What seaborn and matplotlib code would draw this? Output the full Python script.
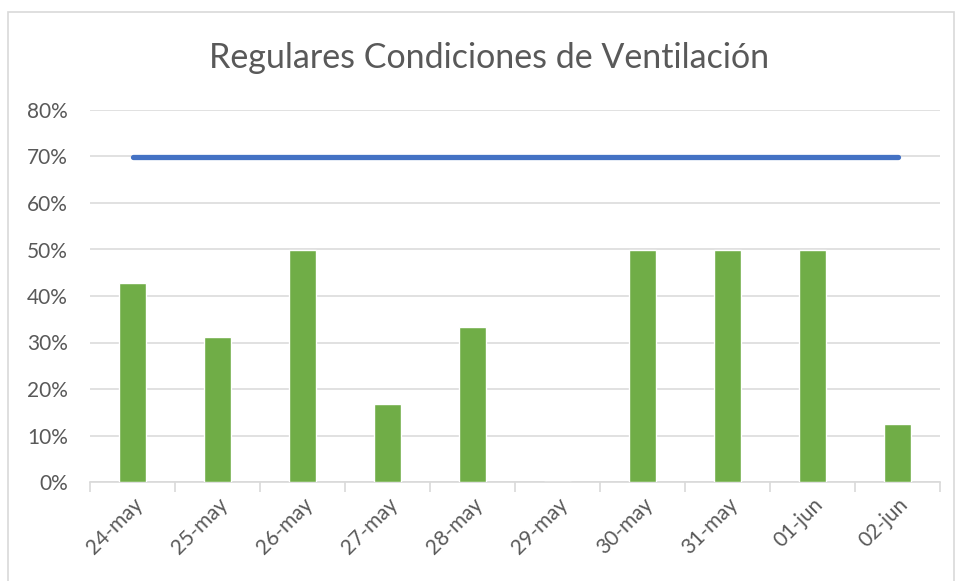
import numpy as np
import pandas as pd
import seaborn as sns
import matplotlib.pyplot as plt
from matplotlib.patches import Rectangle
from matplotlib.ticker import PercentFormatter, MultipleLocator, FixedLocator

fechas = ['24-may', '25-may', '26-may', '27-may', '28-may',
          '29-may', '30-may', '31-may', '01-jun', '02-jun']
regulares = [0.429, 0.3125, 0.50, 0.1667, 0.3333, 0.0, 0.50, 0.50, 0.50, 0.125]
meta = [0.70] * len(fechas)

df = pd.DataFrame({'fecha': fechas, 'valor': regulares})

sns.set_style('white')
plt.rcParams['font.family'] = ['Lato', 'DejaVu Sans']
gris = '#595959'

fig = plt.figure(figsize=(9.61, 5.81), dpi=100)
fig.patches.append(Rectangle((8 / 961, -0.05), 946 / 961, 1 - 12 / 581 + 0.05,
                             transform=fig.transFigure, fill=False,
                             edgecolor='#D9D9D9', linewidth=1.2))
ax = fig.add_axes([90 / 961, 1 - 482 / 581, 850 / 961, 372 / 581])

sns.barplot(data=df, x='fecha', y='valor', color='#70AD47', width=0.31,
            saturation=1, ax=ax, zorder=3)
sns.lineplot(x=np.arange(len(fechas)), y=meta, color='#4472C4', linewidth=3.8,
             ax=ax, zorder=4)

ax.set_ylim(0, 0.8)
ax.set_xlim(-0.5, len(fechas) - 0.5)
ax.yaxis.set_major_locator(MultipleLocator(0.1))
ax.yaxis.set_major_formatter(PercentFormatter(1, decimals=0))
ax.grid(axis='y', color='#D9D9D9', linewidth=1.1, zorder=0)
ax.set_axisbelow(True)

for s in ['top', 'right', 'left']:
    ax.spines[s].set_visible(False)
ax.spines['bottom'].set_color('#D9D9D9')
ax.spines['bottom'].set_linewidth(1.2)

ax.xaxis.set_minor_locator(FixedLocator(np.arange(-0.5, len(fechas), 1)))
ax.tick_params(axis='x', which='minor', length=7, width=1.2, color='#D9D9D9',
               direction='out', bottom=True)
ax.tick_params(axis='x', which='major', length=0, pad=9, labelsize=15,
               labelcolor=gris)
ax.tick_params(axis='y', length=0, pad=16, labelsize=15, labelcolor=gris)
plt.setp(ax.get_xticklabels(), rotation=45, ha='right', rotation_mode='anchor')

ax.set_xlabel('')
ax.set_ylabel('')
fig.text(489 / 961, 1 - 58 / 581, 'Regulares Condiciones de Ventilación',
         ha='center', va='center', fontsize=24.5, color=gris)

fig.savefig('out.png', dpi=100)
